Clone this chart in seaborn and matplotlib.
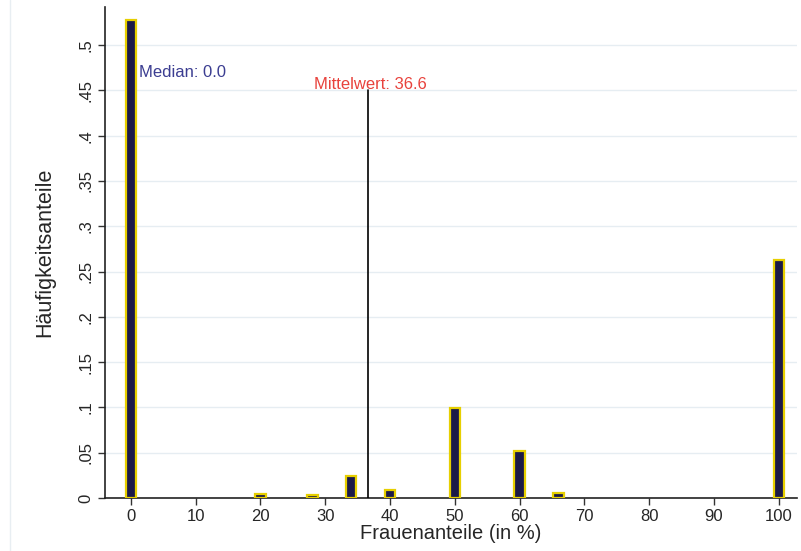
import matplotlib
matplotlib.use("Agg")
import matplotlib.pyplot as plt
import seaborn as sns
import pandas as pd

# Data
positions = [0, 20, 28, 34, 40, 50, 60, 66, 100]
shares = [0.528, 0.004, 0.003, 0.024, 0.009, 0.099, 0.052, 0.006, 0.263]
median_value = 0.0
mean_value = 36.6
x_ticks = [0, 10, 20, 30, 40, 50, 60, 70, 80, 90, 100]
y_ticks = [0, 0.05, 0.1, 0.15, 0.2, 0.25, 0.3, 0.35, 0.4, 0.45, 0.5]
y_tick_labels = ["0", ".05", ".1", ".15", ".2", ".25", ".3", ".35", ".4", ".45", ".5"]

sns.set_style("white")
plt.rcParams["font.family"] = ["Liberation Sans", "DejaVu Sans"]

df = pd.DataFrame({"pos": positions, "share": shares})

fig = plt.figure(figsize=(8.01, 5.51), dpi=100)
ax = fig.add_axes([0.131, 0.0962, 0.864, 0.891])

for yt in y_ticks:
    ax.axhline(yt, color="#e6edf2", lw=1.0, zorder=0)

sns.barplot(data=df, x="pos", y="share", native_scale=True, width=0.27,
            color="#1b1a48", edgecolor="#e6cf00", linewidth=1.6,
            saturation=1, ax=ax, zorder=3)

ax.plot([median_value, median_value], [0, 0.45], color="black", lw=1.2, zorder=2)
ax.plot([mean_value, mean_value], [0, 0.45], color="black", lw=1.2, zorder=4)
ax.text(median_value + 1.2, 0.4615, "Median: 0.0", color="#3b3d91", fontsize=12, va="bottom", ha="left")
ax.text(mean_value + 0.3, 0.4485, "Mittelwert: 36.6", color="#e8423c", fontsize=12, va="bottom", ha="center")

ax.set_xlim(-4, 102.8)
ax.set_ylim(0, 0.542)
ax.set_xticks(x_ticks)
ax.set_xticklabels([str(v) for v in x_ticks], fontsize=12)
ax.set_yticks(y_ticks)
ax.set_yticklabels(y_tick_labels, fontsize=12, rotation=90, va="center")
ax.tick_params(axis="both", length=5, width=1, color="#333333", direction="out")
ax.tick_params(axis="x", bottom=True, pad=3)
ax.tick_params(axis="y", left=True, pad=3)

for s in ["top", "right"]:
    ax.spines[s].set_visible(False)
for s in ["left", "bottom"]:
    ax.spines[s].set_color("#222222")
    ax.spines[s].set_linewidth(1.2)

ax.set_xlabel("Frauenanteile (in %)", fontsize=14.5, labelpad=0)
ax.set_ylabel("Häufigkeitsanteile", fontsize=15.5, labelpad=17)

fig.add_artist(plt.Line2D([0.0125, 0.0125], [0, 1], color="#e8eef2", lw=1, transform=fig.transFigure))

fig.savefig("out.png", dpi=100)
